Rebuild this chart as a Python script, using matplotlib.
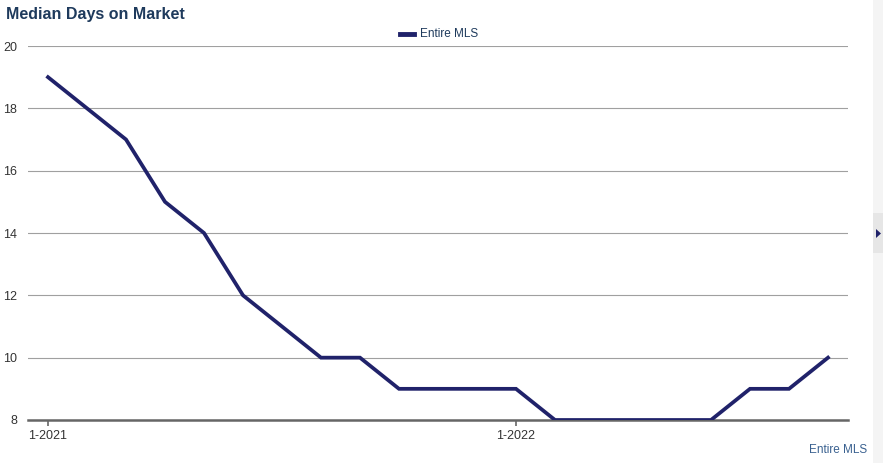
import matplotlib
matplotlib.use("Agg")
import matplotlib.pyplot as plt
from matplotlib.patches import Rectangle

# monthly median days on market, 1-2021 .. 9-2022
months = list(range(21))
days = [19, 18, 17, 15, 14, 12, 11, 10, 10, 9, 9, 9, 9, 8, 8, 8, 8, 8, 9, 9, 10]
tick_pos = [0, 12]
tick_labels = ["1-2021", "1-2022"]
yticks = [8, 10, 12, 14, 16, 18, 20]

W, H = 883, 463
fig = plt.figure(figsize=(W / 100, H / 100), dpi=100)
plt.rcParams['font.family'] = ['Liberation Sans', 'DejaVu Sans']

ax = fig.add_axes([28 / W, 1 - 420 / H, (848 - 28) / W, (420 - 46) / H])
ax.plot(months, days, color="#20226a", lw=2.7, solid_joinstyle="miter", zorder=3)
ax.set_xlim(-20 / 39, 800 / 39)
ax.set_ylim(8, 20)
ax.set_yticks(yticks)
ax.set_yticklabels([str(v) for v in yticks], fontsize=9, color="#333333")
ax.set_xticks(tick_pos)
ax.set_xticklabels(tick_labels, fontsize=9, color="#333333")
ax.tick_params(axis="y", length=0, pad=8)
ax.tick_params(axis="x", length=4, width=1.2, color="#666666", pad=3)
ax.grid(axis="y", color="#a0a0a0", lw=0.8)
ax.set_axisbelow(True)
for s in ["top", "right", "left"]:
    ax.spines[s].set_visible(False)
ax.spines["bottom"].set_color("#666666")
ax.spines["bottom"].set_linewidth(1.8)

fig.text(6 / W, 1 - 15 / H, "Median Days on Market", fontsize=11.5, fontweight="bold",
         color="#1e3a5c", va="center", ha="left")

# legend
fig.add_artist(plt.Line2D([400 / W, 414 / W], [1 - 34 / H, 1 - 34 / H],
                          color="#20226a", lw=3.5, transform=fig.transFigure))
fig.text(420 / W, 1 - 34 / H, "Entire MLS", fontsize=8.5, color="#1e3a5c",
         va="center", ha="left")

fig.text(867 / W, 1 - 450 / H, "Entire MLS", fontsize=8.5, color="#3a6190",
         va="center", ha="right")

# side scroll strip
fig.add_artist(Rectangle((873 / W, 0), 10 / W, 1, transform=fig.transFigure,
                         facecolor="#f4f4f4", edgecolor="none"))
fig.add_artist(Rectangle((873 / W, 1 - 253 / H), 10 / W, 40 / H, transform=fig.transFigure,
                         facecolor="#e6e6e6", edgecolor="none"))
fig.add_artist(plt.Polygon([[876 / W, 1 - 229 / H], [876 / W, 1 - 238 / H], [881 / W, 1 - 233.5 / H]],
                           closed=True, transform=fig.transFigure, facecolor="#20226a",
                           edgecolor="none"))

fig.savefig("out.png", dpi=100)
